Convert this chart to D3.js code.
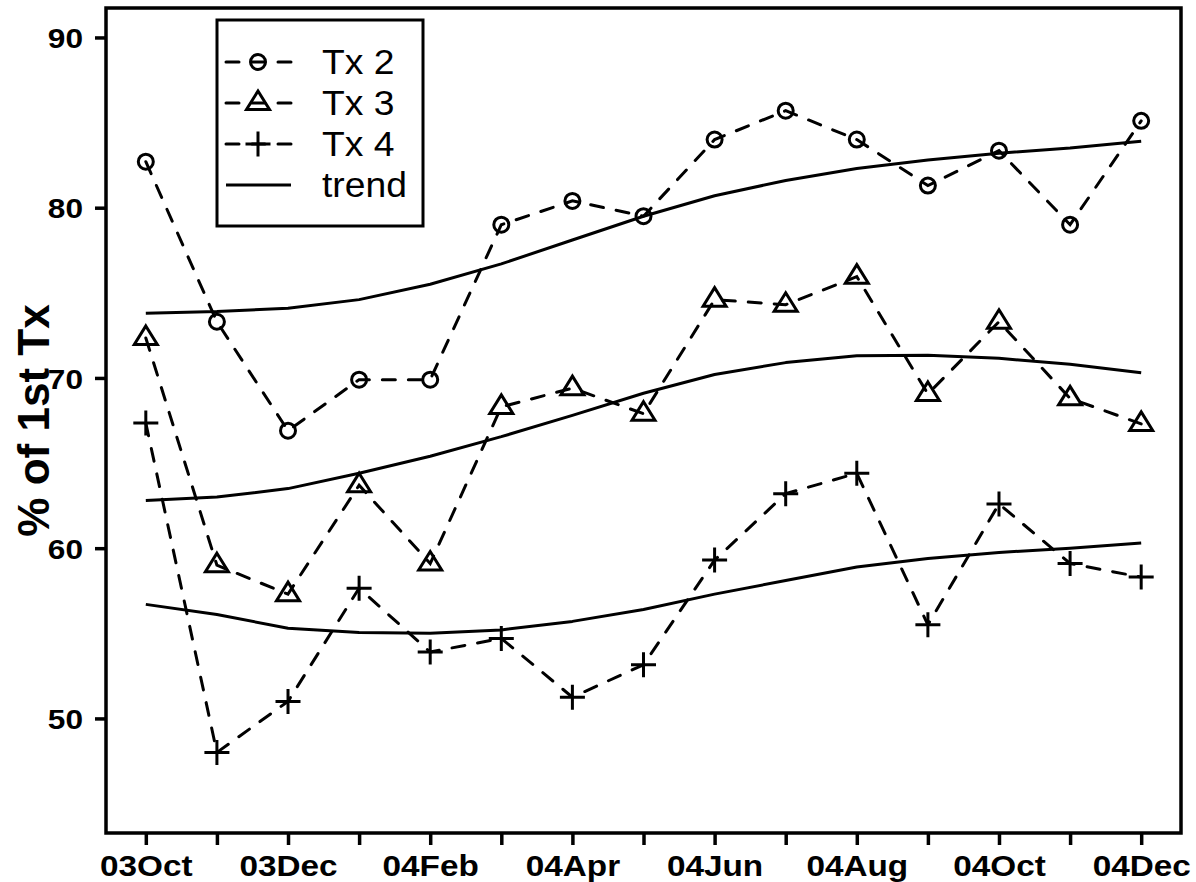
<!DOCTYPE html>
<html>
<head>
<meta charset="utf-8">
<script src="https://cdn.jsdelivr.net/npm/d3@7"></script>
<style>
  body { margin: 0; background: #fff; }
  svg { display: block; font-family: "Liberation Sans", Arial, sans-serif; }
</style>
</head>
<body>
<svg></svg>
<script>
'use strict';

const svgWidth = 1196;
const svgHeight = 882;

// plot box in page pixels
const box = { left: 106, right: 1181, top: 8, bottom: 833 };
const stretch = 1.11; // glyphs in the reference are a bit wider than tall

const months = ['03Oct', '03Nov', '03Dec', '04Jan', '04Feb', '04Mar', '04Apr', '04May',
  '04Jun', '04Jul', '04Aug', '04Sep', '04Oct', '04Nov', '04Dec'];
const tickLabels = ['03Oct', '03Dec', '04Feb', '04Apr', '04Jun', '04Aug', '04Oct', '04Dec'];
const yTicks = [50, 60, 70, 80, 90];

const tx2 = [82.7, 73.3, 66.9, 69.9, 69.9, 79.0, 80.4, 79.5, 84.0, 85.7, 84.0, 81.3, 83.35, 79.0, 85.1];
const tx3 = [72.35, 59.0, 57.3, 63.7, 59.1, 68.3, 69.4, 67.9, 74.6, 74.3, 75.95, 69.06, 73.3, 68.8, 67.3];
const tx4 = [67.35, 48.0, 51.0, 57.65, 53.9, 54.7, 51.25, 53.15, 59.3, 63.2, 64.4, 55.5, 62.6, 59.1, 58.3];

const trend2 = [73.8, 73.9, 74.1, 74.6, 75.5, 76.7, 78.1, 79.5, 80.7, 81.6, 82.3, 82.8, 83.2, 83.5, 83.9];
const trend3 = [62.8, 63.0, 63.5, 64.4, 65.4, 66.55, 67.8, 69.1, 70.2, 70.9, 71.3, 71.33, 71.15, 70.8, 70.3];
const trend4 = [56.7, 56.1, 55.3, 55.05, 55.0, 55.2, 55.7, 56.4, 57.3, 58.1, 58.9, 59.4, 59.75, 60.0, 60.3];

const seriesNames = ['Tx 2', 'Tx 3', 'Tx 4', 'trend'];

const svg = d3.select('svg')
  .attr('width', svgWidth)
  .attr('height', svgHeight);

svg.append('rect')
  .attr('width', svgWidth)
  .attr('height', svgHeight)
  .attr('fill', '#fff');

const n = months.length - 1;
const pad = n * 0.04;
const x = d3.scaleLinear()
  .domain([-pad, n + pad])
  .range([box.left, box.right]);

const y = d3.scaleLinear()
  .domain([43.27, 91.73])
  .range([box.bottom, box.top]);

// marker shapes
function marker(sel, kind) {
  if (kind === 'circle') {
    sel.append('circle').attr('r', 7.5);
  } else if (kind === 'triangle') {
    sel.append('path').attr('d', 'M0,-12L11.5,6.5L-11.5,6.5Z');
  } else {
    sel.append('path').attr('d', 'M-12.5,0H12.5M0,-12.5V12.5');
  }
  sel.attr('fill', 'none')
    .attr('stroke', '#000')
    .attr('stroke-width', 3);
}

const line = d3.line()
  .x((d, i) => x(i))
  .y(d => y(d));

// trend lines
[trend2, trend3, trend4].forEach(t => {
  svg.append('path')
    .datum(t)
    .attr('fill', 'none')
    .attr('stroke', '#000')
    .attr('stroke-width', 3)
    .attr('stroke-linejoin', 'round')
    .attr('d', line);
});

// dashed series with markers
const series = [
  { vals: tx2, kind: 'circle' },
  { vals: tx3, kind: 'triangle' },
  { vals: tx4, kind: 'plus' }
];

series.forEach(s => {
  svg.append('path')
    .datum(s.vals)
    .attr('fill', 'none')
    .attr('stroke', '#000')
    .attr('stroke-width', 3)
    .attr('stroke-linecap', 'round')
    .attr('stroke-dasharray', '13,13')
    .attr('d', line);

  svg.append('g')
    .selectAll('g')
    .data(s.vals)
    .join('g')
    .attr('transform', (d, i) => `translate(${x(i)}, ${y(d)})`)
    .each(function () { marker(d3.select(this), s.kind); });
});

// plot box
svg.append('rect')
  .attr('x', box.left)
  .attr('y', box.top)
  .attr('width', box.right - box.left)
  .attr('height', box.bottom - box.top)
  .attr('fill', 'none')
  .attr('stroke', '#000')
  .attr('stroke-width', 3.5);

// x axis
const xAxis = svg.append('g')
  .attr('transform', `translate(0, ${box.bottom})`)
  .call(d3.axisBottom(x)
    .tickValues(d3.range(months.length))
    .tickSize(12)
    .tickSizeOuter(0)
    .tickFormat(i => tickLabels.includes(months[i]) ? months[i] : ''));

xAxis.select('.domain').remove();
xAxis.selectAll('line').attr('stroke-width', 3.5);
xAxis.selectAll('text')
  .attr('font-family', '"Liberation Sans", Arial, sans-serif')
  .attr('font-size', 30)
  .attr('font-weight', 'bold')
  .attr('fill', '#000')
  .attr('y', 0)
  .attr('dy', 0)
  .attr('transform', `translate(0, 43) scale(${stretch}, 1)`);

// y axis
const yAxis = svg.append('g')
  .attr('transform', `translate(${box.left}, 0)`)
  .call(d3.axisLeft(y)
    .tickValues(yTicks)
    .tickSize(11)
    .tickSizeOuter(0));

yAxis.select('.domain').remove();
yAxis.selectAll('line').attr('stroke-width', 3.5);
yAxis.selectAll('text')
  .attr('font-family', '"Liberation Sans", Arial, sans-serif')
  .attr('font-size', 28.5)
  .attr('font-weight', 'bold')
  .attr('fill', '#000')
  .attr('x', 0)
  .attr('dy', '0.36em')
  .attr('transform', `translate(-23, 0) scale(${stretch}, 1)`);

// y title
svg.append('text')
  .attr('transform', `translate(49, ${(box.top + box.bottom) / 2}) rotate(-90)`)
  .attr('text-anchor', 'middle')
  .attr('font-size', 44)
  .attr('font-weight', 'bold')
  .text('% of 1st Tx');

// legend
const legend = svg.append('g');

legend.append('rect')
  .attr('x', 217)
  .attr('y', 20)
  .attr('width', 206)
  .attr('height', 206)
  .attr('fill', '#fff')
  .attr('stroke', '#000')
  .attr('stroke-width', 3);

const rowY = [62, 103, 144, 185];
const kinds = ['circle', 'triangle', 'plus', null];

seriesNames.forEach((name, i) => {
  const g = legend.append('g').attr('transform', `translate(0, ${rowY[i]})`);
  const l = g.append('line')
    .attr('x1', 226)
    .attr('x2', 291)
    .attr('stroke', '#000')
    .attr('stroke-width', 3);
  if (kinds[i]) {
    l.attr('stroke-dasharray', '13,13')
      .attr('stroke-linecap', 'round');
    g.append('g')
      .attr('transform', 'translate(258, 0)')
      .call(sel => marker(sel, kinds[i]));
  }
  g.append('text')
    .attr('transform', `translate(322, 0) scale(1.08, 1)`)
    .attr('dy', '0.36em')
    .attr('font-size', 34.5)
    .text(name);
});
</script>
</body>
</html>
